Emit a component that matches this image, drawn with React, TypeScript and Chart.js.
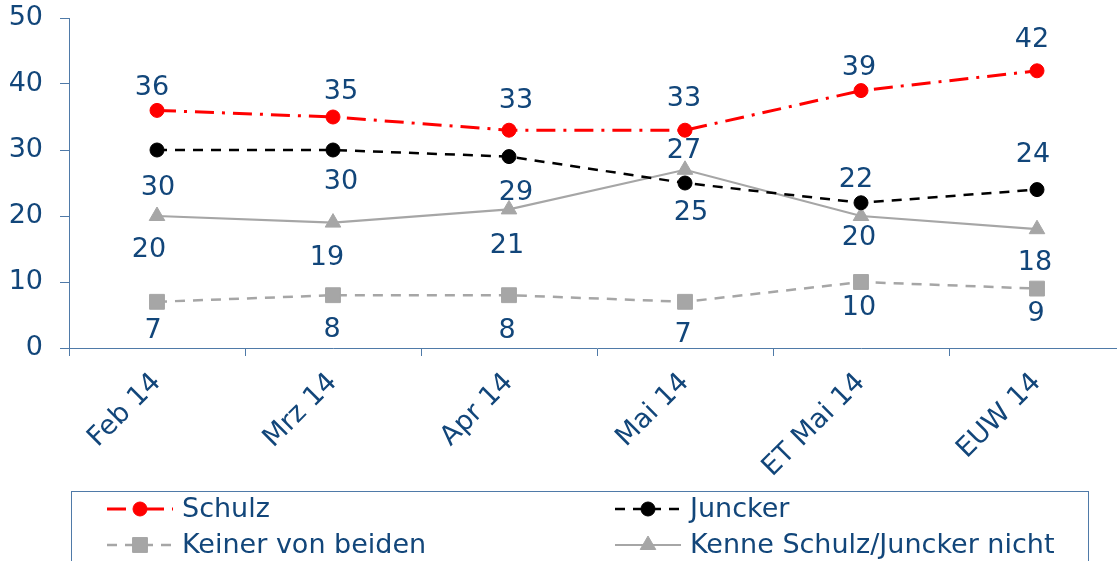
import React, { useEffect, useRef } from 'react';
import { Chart, registerables } from 'chart.js';
import { drawPoint } from 'chart.js/helpers';

Chart.register(...registerables);

// ---- data ----
const categories = ['Feb 14', 'Mrz 14', 'Apr 14', 'Mai 14', 'ET Mai 14', 'EUW 14'];
const schulz = [36, 35, 33, 33, 39, 42];
const juncker = [30, 30, 29, 25, 22, 24];
const keiner = [7, 8, 8, 7, 10, 9];
const kenne = [20, 19, 21, 27, 20, 18];
const yTicks = [0, 10, 20, 30, 40, 50];

// value-label nudges (pixels) relative to each point, as placed in the original
const schulzLabelDy = [-23, -26, -30, -32, -24, -32];
const schulzLabelDx = [-5, 8, 7, -1, -2, -5];
const junckerLabelDy = [37, 31, 35, 29, -24, -36];
const junckerLabelDx = [1, 8, 7, 6, -5, -4];
const keinerLabelDy = [28, 34, 35, 32, 25, 24];
const keinerLabelDx = [-4, -1, -2, -2, -2, -1];
const kenneLabelDy = [33, 34, 36, -20, 21, 33];
const kenneLabelDx = [-8, -6, -2, -1, -2, -2];
const labelDy = [schulzLabelDy, junckerLabelDy, keinerLabelDy, kenneLabelDy];
const labelDx = [schulzLabelDx, junckerLabelDx, keinerLabelDx, kenneLabelDx];

const TEXT = '#12467a';
const AXIS = '#4f7aa8';
const FONT = '"DejaVu Sans", Verdana, sans-serif';
const FS = 27;

const dataLabels = {
  id: 'dataLabels',
  afterDatasetsDraw(chart: any) {
    const ctx = chart.ctx;
    ctx.save();
    ctx.font = `${FS}px ${FONT}`;
    ctx.fillStyle = TEXT;
    ctx.textAlign = 'center';
    ctx.textBaseline = 'middle';
    chart.data.datasets.forEach((ds: any, i: number) => {
      const meta = chart.getDatasetMeta(i);
      meta.data.forEach((pt: any, j: number) => {
        ctx.fillText(String(ds.data[j]), pt.x + labelDx[i][j], pt.y + labelDy[i][j] + 1);
      });
    });
    ctx.restore();
  },
};

const boxLegend = {
  id: 'boxLegend',
  afterDraw(chart: any) {
    const ctx = chart.ctx;
    ctx.save();
    ctx.strokeStyle = AXIS;
    ctx.lineWidth = 1;
    ctx.strokeRect(71.5, 491.5, 1017, 140);
    chart.data.datasets.forEach((ds: any, i: number) => {
      const col = i % 2;
      const row = Math.floor(i / 2);
      const x0 = col ? 615 : 107;
      const x1 = x0 + 66;
      const y = row ? 545 : 509;
      ctx.strokeStyle = ds.borderColor;
      ctx.lineWidth = ds.borderWidth;
      ctx.setLineDash(ds.borderDash || []);
      ctx.beginPath();
      ctx.moveTo(x0, y);
      ctx.lineTo(x1, y);
      ctx.stroke();
      ctx.setLineDash([]);
      ctx.fillStyle = ds.pointBackgroundColor;
      ctx.strokeStyle = ds.pointBorderColor;
      ctx.lineWidth = 1;
      drawPoint(ctx, { pointStyle: ds.pointStyle, radius: ds.pointRadius, borderWidth: 1, rotation: 0 } as any, (x0 + x1) / 2, y);
      ctx.fillStyle = TEXT;
      ctx.font = `${FS}px ${FONT}`;
      ctx.textAlign = 'left';
      ctx.textBaseline = 'middle';
      ctx.fillText(ds.label, x1 + 9, y + 1);
    });
    ctx.restore();
  },
};

export default function App() {
  const ref = useRef<HTMLCanvasElement>(null);
  useEffect(() => {
    if (!ref.current) return;
    Chart.defaults.font.family = FONT;
    const chart = new Chart(ref.current, {
      type: 'line',
      data: {
        labels: categories,
        datasets: [
          {
            label: 'Schulz', data: schulz, borderColor: '#ff0000', backgroundColor: '#ff0000',
            borderWidth: 3, borderDash: [19, 8, 3, 8], pointStyle: 'circle', pointRadius: 7,
            pointBackgroundColor: '#ff0000', pointBorderColor: '#ff0000', pointBorderWidth: 1,
          },
          {
            label: 'Juncker', data: juncker, borderColor: '#000000', backgroundColor: '#000000',
            borderWidth: 2.5, borderDash: [10, 8], pointStyle: 'circle', pointRadius: 7,
            pointBackgroundColor: '#000000', pointBorderColor: '#000000', pointBorderWidth: 1,
          },
          {
            label: 'Keiner von beiden', data: keiner, borderColor: '#a6a6a6', backgroundColor: '#a6a6a6',
            borderWidth: 2.5, borderDash: [10, 8], pointStyle: 'rect', pointRadius: 10.5,
            pointBackgroundColor: '#a6a6a6', pointBorderColor: '#a6a6a6', pointBorderWidth: 1,
          },
          {
            label: 'Kenne Schulz/Juncker nicht', data: kenne, borderColor: '#a6a6a6', backgroundColor: '#a6a6a6',
            borderWidth: 2.2, pointStyle: 'triangle', pointRadius: 9,
            pointBackgroundColor: '#a6a6a6', pointBorderColor: '#a6a6a6', pointBorderWidth: 1,
          },
        ],
      },
      options: {
        responsive: false,
        animation: false,
        devicePixelRatio: 1,
        layout: { padding: { top: 18, right: 15, left: 0, bottom: 0 } },
        elements: { line: { tension: 0 } },
        plugins: { legend: { display: false }, tooltip: { enabled: false } },
        scales: {
          x: {
            type: 'category',
            offset: true,
            grid: { display: true, drawOnChartArea: false, drawTicks: true, tickLength: 8, color: AXIS, offset: true },
            border: { display: true, color: AXIS, width: 1 },
            ticks: { color: TEXT, font: { size: FS }, minRotation: 45, maxRotation: 45, autoSkip: false, padding: 11 },
            afterFit: (s: any) => { s.height = 252; s.paddingLeft = 0; s.paddingRight = 0; },
          },
          y: {
            min: 0,
            max: 50,
            afterBuildTicks: (s: any) => { s.ticks = yTicks.map((v) => ({ value: v })); },
            grid: { drawOnChartArea: false, drawTicks: true, tickLength: 9, color: AXIS },
            border: { display: true, color: AXIS, width: 1 },
            ticks: { color: TEXT, font: { size: FS }, padding: 17 },
            afterFit: (s: any) => { s.width = 69; s.paddingTop = 0; s.paddingBottom = 0; },
          },
        },
      } as any,
      plugins: [dataLabels, boxLegend],
    });
    return () => chart.destroy();
  }, []);
  return (
    <div style={{ position: 'fixed', left: 0, top: 0, width: 1117, height: 561, overflow: 'hidden', background: '#fff' }}>
      <canvas ref={ref} width={1140} height={600} style={{ display: 'block' }} />
    </div>
  );
}
